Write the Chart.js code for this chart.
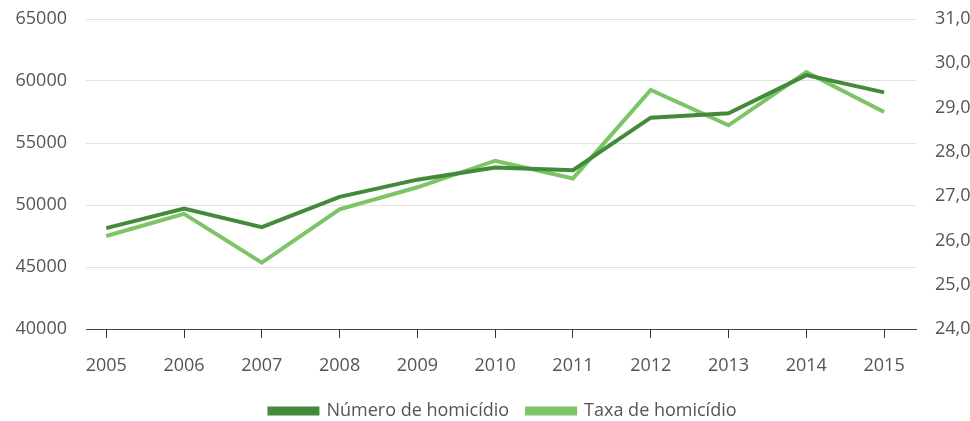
<!DOCTYPE html>
<html>
<head>
<meta charset="utf-8">
<script src="https://cdn.jsdelivr.net/npm/chart.js@4"></script>
<style>
  html, body { margin: 0; padding: 0; background: #fff; }
  #wrap { width: 970px; height: 421px; }
</style>
</head>
<body>
<div id="wrap"><canvas id="chart"></canvas></div>
<script>
// 数据
const years = [2005, 2006, 2007, 2008, 2009, 2010, 2011, 2012, 2013, 2014, 2015];
const numeroHomicidio = [48136, 49704, 48219, 50659, 52043, 53016, 52807, 57045, 57396, 60474, 59080];
const taxaHomicidio = [26.1, 26.6, 25.5, 26.7, 27.2, 27.8, 27.4, 29.4, 28.6, 29.8, 28.9];
const leftTicks = [40000, 45000, 50000, 55000, 60000, 65000];
const rightTicks = [24, 25, 26, 27, 28, 29, 30, 31];

const darkGreen = '#448a3b';
const lightGreen = '#7cc567';
const textColor = '#555555';

Chart.defaults.font.family = '"Open Sans", sans-serif';
Chart.defaults.font.size = 18;
Chart.defaults.color = textColor;

// 固定图例高度，让图例贴近底部，并略微右移
const legendHeightPlugin = {
    id: 'legendHeight',
    beforeLayout(chart) {
        const legend = chart.legend;
        if (legend && !legend._fixedFit) {
            const proto = Object.getPrototypeOf(legend);
            legend.fit = function () {
                proto.fit.call(this);
                this.height = 37;
            };
            legend._fixedFit = true;
        }
    },
    afterLayout(chart) {
        if (chart.legend) {
            chart.legend.left += 18;
            chart.legend.right += 18;
        }
    }
};

const ctx = document.getElementById('chart').getContext('2d');
new Chart(ctx, {
    type: 'line',
    data: {
        datasets: [{
            label: 'Número de homicídio',
            data: years.map((y, i) => ({ x: y, y: numeroHomicidio[i] })),
            borderColor: darkGreen,
            backgroundColor: darkGreen,
            borderWidth: 4,
            pointRadius: 0,
            tension: 0,
            yAxisID: 'y'
        }, {
            label: 'Taxa de homicídio',
            data: years.map((y, i) => ({ x: y, y: taxaHomicidio[i] })),
            borderColor: lightGreen,
            backgroundColor: lightGreen,
            borderWidth: 4,
            pointRadius: 0,
            tension: 0,
            yAxisID: 'y1'
        }]
    },
    plugins: [legendHeightPlugin],
    options: {
        responsive: true,
        maintainAspectRatio: false,
        animation: false,
        layout: { padding: { top: 19, left: 0, right: 0, bottom: 0 } },
        scales: {
            x: {
                type: 'linear',
                min: 2004.74,
                max: 2015.41,
                afterBuildTicks: axis => { axis.ticks = years.map(v => ({ value: v })); },
                afterFit: axis => { axis.height = 55; },
                grid: { drawOnChartArea: false, drawTicks: true, tickLength: 9, color: '#333' },
                border: { color: '#444', width: 1 },
                ticks: {
                    padding: 17,
                    autoSkip: false,
                    maxRotation: 0,
                    callback: v => String(v)
                }
            },
            y: {
                position: 'left',
                min: 40000,
                max: 65000,
                afterBuildTicks: axis => { axis.ticks = leftTicks.map(v => ({ value: v })); },
                afterFit: axis => { axis.width = 86; axis.paddingTop = 0; axis.paddingBottom = 0; },
                grid: { color: '#e2e2e2', drawTicks: false },
                border: { display: false },
                ticks: { padding: 19, callback: v => String(v) }
            },
            y1: {
                position: 'right',
                min: 24,
                max: 31,
                afterBuildTicks: axis => { axis.ticks = rightTicks.map(v => ({ value: v })); },
                afterFit: axis => { axis.width = 54; axis.paddingTop = 0; axis.paddingBottom = 0; },
                grid: { display: false },
                border: { display: false },
                ticks: { padding: 11, callback: v => v.toFixed(1).replace('.', ',') }
            }
        },
        plugins: {
            legend: {
                position: 'bottom',
                labels: {
                    boxWidth: 48,
                    boxHeight: 5,
                    padding: 18,
                    font: { size: 18 }
                }
            },
            tooltip: { enabled: false }
        }
    }
});
</script>
</body>
</html>
